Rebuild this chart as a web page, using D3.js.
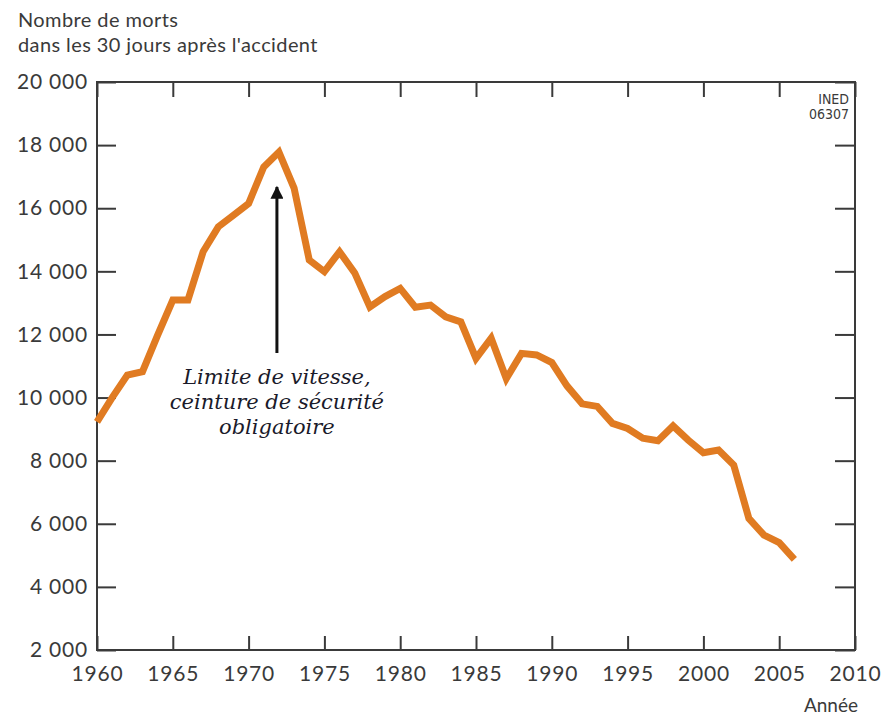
<!DOCTYPE html>
<html>
<head>
<meta charset="utf-8">
<script src="https://cdn.jsdelivr.net/npm/d3@7"></script>
<style>
  body { margin: 0; background: #fff; }
  svg { display: block; }
</style>
</head>
<body>
<script>
// morts dans les 30 jours, France
const years = [1960, 1961, 1962, 1963, 1964, 1965, 1966, 1967, 1968, 1969,
               1970, 1971, 1972, 1973, 1974, 1975, 1976, 1977, 1978, 1979,
               1980, 1981, 1982, 1983, 1984, 1985, 1986, 1987, 1988, 1989,
               1990, 1991, 1992, 1993, 1994, 1995, 1996, 1997, 1998, 1999,
               2000, 2001, 2002, 2003, 2004, 2005, 2006];
const deaths = [9230, 10000, 10710, 10820, 11980, 13090, 13090, 14620, 15410, 15780,
                16150, 17310, 17780, 16640, 14360, 13990, 14620, 13950, 12870, 13200,
                13460, 12860, 12930, 12560, 12400, 11240, 11880, 10600, 11400, 11350,
                11110, 10370, 9800, 9720, 9180, 9020, 8710, 8630, 9100, 8650,
                8250, 8340, 7860, 6170, 5640, 5400, 4870];
const yTicks = [2000, 4000, 6000, 8000, 10000, 12000, 14000, 16000, 18000, 20000];
const xTicks = [1960, 1965, 1970, 1975, 1980, 1985, 1990, 1995, 2000, 2005, 2010];
const titleLines = ["Nombre de morts", "dans les 30 jours après l'accident"];
const noteLines = ["Limite de vitesse,", "ceinture de sécurité", "obligatoire"];
const noteYear = 1972;
const sourceLines = ["INED", "06307"];

const width = 887;
const height = 718;
const margin = {top: 82, right: 32, bottom: 68, left: 97};
const ink = "#3a3a3a";
const sans = "Lato, 'Noto Sans', sans-serif";

const svg = d3.select('body')
    .append('svg')
    .attr('width', width)
    .attr('height', height);

const x = d3.scaleLinear()
    .domain([1960, 2010])
    .range([margin.left, width - margin.right]);
const y = d3.scaleLinear()
    .domain([2000, 20000])
    .range([height - margin.bottom, margin.top]);

const fr = d3.formatLocale({decimal: ",", thousands: " ", grouping: [3], currency: ["", " €"]});
const fmt = fr.format(",d");

// titre
svg.append("g")
    .selectAll("text")
    .data(titleLines)
    .join("text")
    .attr("x", 18)
    .attr("y", (d, i) => 27 + i * 25)
    .style("font-family", sans)
    .style("font-size", "20px")
    .style("letter-spacing", "0.4px")
    .style("fill", ink)
    .text(d => d);

// axes
const axL = svg.append("g")
    .attr("transform", `translate(${margin.left},0)`)
    .call(d3.axisLeft(y).tickValues(yTicks).tickSize(-19).tickPadding(9).tickFormat(fmt));
const axR = svg.append("g")
    .attr("transform", `translate(${width - margin.right},0)`)
    .call(d3.axisRight(y).tickValues(yTicks).tickSize(-20).tickFormat(""));
const axT = svg.append("g")
    .attr("transform", `translate(0,${margin.top})`)
    .call(d3.axisTop(x).tickValues(xTicks).tickSize(-15).tickFormat(""));
const axB = svg.append("g")
    .attr("transform", `translate(0,${height - margin.bottom})`)
    .call(d3.axisBottom(x).tickValues(xTicks).tickSize(-14).tickPadding(16).tickFormat(d3.format("d")));

[axL, axR, axT, axB].forEach(function(g) {
    g.select(".domain").remove();
    g.selectAll(".tick line")
        .style("stroke", ink)
        .style("stroke-width", 2);
    g.selectAll(".tick text")
        .style("font-family", sans)
        .style("font-size", "21px")
        .style("letter-spacing", "0.8px")
        .style("fill", ink);
});

svg.append("rect")
    .attr("x", x(1960))
    .attr("y", y(20000))
    .attr("width", x(2010) - x(1960))
    .attr("height", y(2000) - y(20000))
    .style("fill", "none")
    .style("stroke", ink)
    .style("stroke-width", 2);

svg.append("text")
    .attr("x", x(2010) + 3)
    .attr("y", 712)
    .attr("text-anchor", "end")
    .style("font-family", sans)
    .style("font-size", "19px")
    .style("fill", ink)
    .text("Année");

svg.append("g")
    .selectAll("text")
    .data(sourceLines)
    .join("text")
    .attr("x", x(2010) - 6)
    .attr("y", (d, i) => 104 + i * 15)
    .attr("text-anchor", "end")
    .style("font-family", "'Liberation Sans Narrow', 'DejaVu Sans Condensed', sans-serif")
    .style("font-size", "14px")
    .style("fill", ink)
    .text(d => d);

// courbe
const line = d3.line()
    .x((d, i) => x(years[i]))
    .y(d => y(d));

svg.append("path")
    .attr("d", line(deaths))
    .style("fill", "none")
    .style("stroke", "#e07b22")
    .style("stroke-width", 7)
    .style("stroke-linejoin", "miter");

// flèche
const ax = x(noteYear) - 2;
svg.append("defs").append("marker")
    .attr("id", "head")
    .attr("viewBox", "0 0 10 10")
    .attr("refX", 9)
    .attr("refY", 5)
    .attr("markerUnits", "userSpaceOnUse")
    .attr("markerWidth", 16)
    .attr("markerHeight", 13)
    .attr("orient", "auto")
    .append("path")
    .attr("d", "M0,0 L10,5 L0,10 Z")
    .style("fill", "#111");

svg.append("line")
    .attr("x1", ax)
    .attr("x2", ax)
    .attr("y1", 353)
    .attr("y2", 187)
    .style("stroke", "#111")
    .style("stroke-width", 3)
    .attr("marker-end", "url(#head)");

svg.append("g")
    .selectAll("text")
    .data(noteLines)
    .join("text")
    .attr("x", ax)
    .attr("y", (d, i) => 384 + i * 25)
    .attr("text-anchor", "middle")
    .style("font-family", "'DejaVu Serif', serif")
    .style("font-style", "italic")
    .style("font-size", "21px")
    .style("fill", "#1a1a2a")
    .text(d => d);
</script>
</body>
</html>
